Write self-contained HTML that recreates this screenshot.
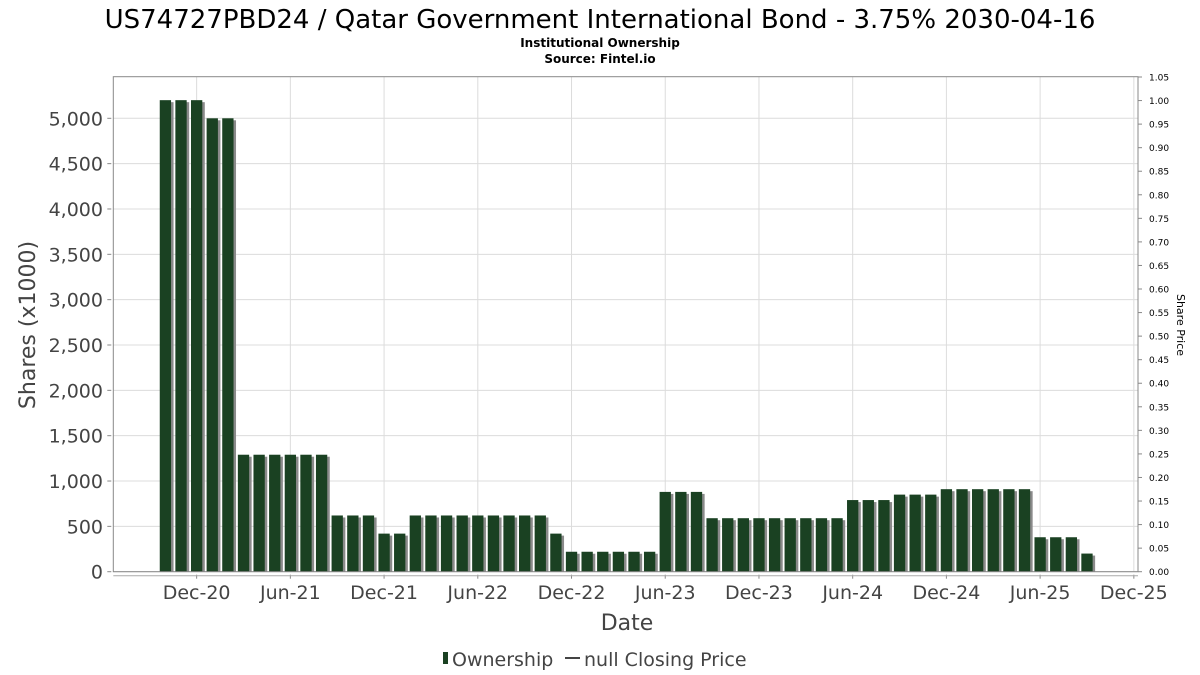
<!DOCTYPE html>
<html><head><meta charset="utf-8"><style>
html,body{margin:0;padding:0;background:#fff;}
svg{display:block;font-family:"DejaVu Sans","Liberation Sans",sans-serif;}
</style></head><body>
<svg id="chart" width="1200" height="675" viewBox="0 0 1200 675" xmlns="http://www.w3.org/2000/svg">
<rect width="1200" height="675" fill="#fff"/>
<text x="600" y="28" text-anchor="middle" font-size="26" fill="#000">US74727PBD24 / Qatar Government International Bond - 3.75% 2030-04-16</text>
<text x="600" y="47" text-anchor="middle" font-size="12" font-weight="bold" fill="#000">Institutional Ownership</text>
<text x="600" y="63" text-anchor="middle" font-size="12" font-weight="bold" fill="#000">Source: Fintel.io</text>
<g id="grid"></g>
<g id="bars"></g>
<rect x="113.3" y="76.7" width="1024.7" height="495" fill="none" stroke="#888" stroke-width="1"/>
<g id="axes"></g>
<text x="627" y="630" text-anchor="middle" font-size="22" fill="#444">Date</text>
<text transform="translate(35,325) rotate(-90)" text-anchor="middle" font-size="22" fill="#444">Shares (x1000)</text>
<text transform="translate(1177,325) rotate(90)" text-anchor="middle" font-size="11" fill="#000">Share Price</text>
<g>
<g>
<rect x="443" y="652" width="5" height="12" fill="#1a4122"/>
<text x="452" y="666" font-size="19" fill="#444">Ownership</text>
</g>
<g>
<line x1="565" y1="658" x2="580" y2="658" stroke="#444" stroke-width="2"/>
<text x="584" y="666" font-size="19" fill="#444">null Closing Price</text>
</g>
</g>
</svg>
<script>
const values = [5200,5200,5200,5000,5000,1290,1290,1290,1290,1290,1290,620,620,620,420,420,620,620,620,620,620,620,620,620,620,420,220,220,220,220,220,220,880,880,880,590,590,590,590,590,590,590,590,590,790,790,790,850,850,850,910,910,910,910,910,910,380,380,380,200];
const startMonth = [2020, 10];
const yTicks = [0,500,1000,1500,2000,2500,3000,3500,4000,4500,5000];
const xTickLabels = ["Dec-20","Jun-21","Dec-21","Jun-22","Dec-22","Jun-23","Dec-23","Jun-24","Dec-24","Jun-25","Dec-25"];
const xTickMonths = [2,8,14,20,26,32,38,44,50,56,62];
const rightTicks = [0,0.05,0.1,0.15,0.2,0.25,0.3,0.35,0.4,0.45,0.5,0.55,0.6,0.65,0.7,0.75,0.8,0.85,0.9,0.95,1.0,1.05];

const NS = "http://www.w3.org/2000/svg";
const baseY = 571.7, left = 113.3, right = 1138;
const yS = v => baseY - v * (571.7 - 118.3) / 5000;
const xS = m => 165.4 + m * 15.62;
const rS = v => baseY - v * (571.7 - 77) / 1.05;
function mk(tag, attrs, parent){const e=document.createElementNS(NS,tag);for(const k in attrs)e.setAttribute(k,attrs[k]);parent.appendChild(e);return e;}
const grid = document.getElementById('grid'), bars = document.getElementById('bars'), axes = document.getElementById('axes');

yTicks.forEach(t=>{
  const y=yS(t);
  const g=mk('line',{x1:left,x2:right,y1:y,y2:y,stroke:'#dcdcdc','stroke-width':1},grid);
  
  
  mk('line',{x1:left-6,x2:left-2,y1:y,y2:y,stroke:'#888'},axes);
  const tx=mk('text',{x:103,y:y+7,'text-anchor':'end','font-size':19,fill:'#444'},axes);
  tx.textContent=t.toLocaleString('en-US');
  
  
});
xTickMonths.forEach((m,i)=>{
  const x=xS(m);
  const g=mk('line',{x1:x,x2:x,y1:76.7,y2:baseY,stroke:'#dcdcdc','stroke-width':1},grid);
  
  
  mk('line',{x1:x,x2:x,y1:baseY+3,y2:baseY+7,stroke:'#888'},axes);
  const tx=mk('text',{x:x,y:599,'text-anchor':'middle','font-size':19,fill:'#444'},axes);
  tx.textContent=xTickLabels[i];
  
  
});
mk('line',{x1:left,x2:right,y1:baseY+4,y2:baseY+4,stroke:'#aaa'},axes);
rightTicks.forEach(t=>{
  const y=rS(t);
  mk('line',{x1:right,x2:right+4,y1:y,y2:y,stroke:'#888'},axes);
  const tx=mk('text',{x:1149,y:y+3.5,'font-size':9,fill:'#000'},axes);
  tx.textContent=t.toFixed(2);
  
  
});
values.forEach((v,i)=>{
  const cx=xS(i), y=yS(v), w=11.3;
  const s=mk('rect',{x:cx-w/2+2.5,y:y+2,width:w,height:baseY-y-2,fill:'#8a8a8a'},bars);
  
  
  const b=mk('rect',{x:cx-w/2,y:y,width:w,height:baseY-y,fill:'#1a4122'},bars);
  
  
});
</script>
</body></html>
